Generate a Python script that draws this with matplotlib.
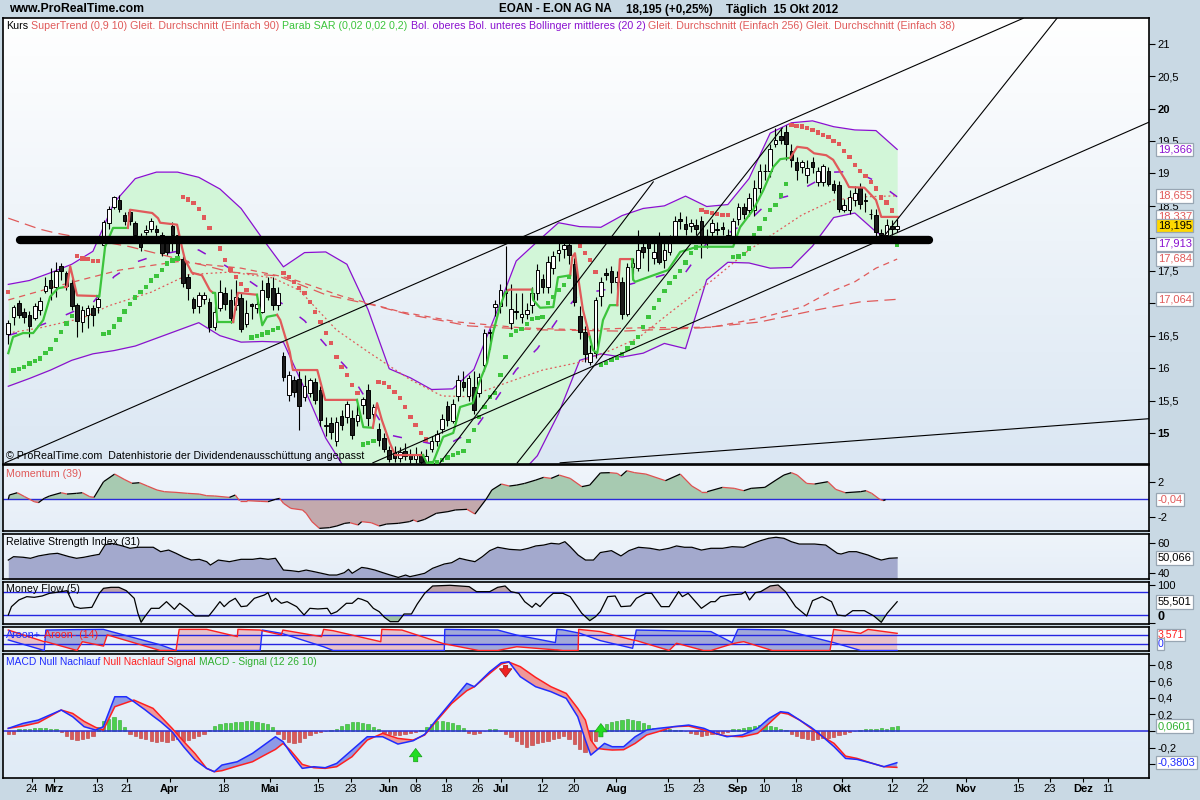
import numpy as np
import matplotlib
matplotlib.use("Agg")
import matplotlib.pyplot as plt
from matplotlib.collections import LineCollection
from matplotlib.colors import LinearSegmentedColormap

plt.rcParams['font.family'] = ['Liberation Sans', 'DejaVu Sans']

# ---------------- Kurs EOAN, Handelstage 0..168 (17.02.2012 - 15.10.2012) ----------------
opens = [16.53,16.79,17.01,16.87,16.82,16.77,16.90,17.19,17.36,17.25,
17.57,17.46,17.31,16.97,16.71,16.82,16.92,16.94,17.90,18.23,
18.49,18.59,18.36,18.40,18.23,18.03,18.09,18.15,18.15,18.05,
17.92,18.19,18.05,17.68,17.41,17.06,16.95,17.06,17.02,16.64,
16.92,17.15,17.05,16.97,17.08,16.68,16.98,16.92,16.87,17.31,
17.24,16.97,16.18,15.59,15.82,15.83,15.55,15.61,15.78,15.66,
15.10,15.15,14.87,15.26,15.25,15.23,15.19,15.43,15.66,15.30,
15.06,14.92,14.74,14.70,14.62,14.72,14.66,14.60,14.68,14.56,
14.76,14.87,15.06,15.41,15.19,15.57,15.79,15.57,15.71,15.62,
16.05,16.54,16.94,16.95,17.18,16.69,16.88,16.78,16.84,16.97,
17.15,17.38,17.25,17.55,17.77,17.83,17.90,17.61,16.80,16.56,
16.10,16.23,17.11,17.46,17.49,17.33,17.33,16.84,17.56,17.54,
17.87,17.92,17.69,17.92,17.67,17.79,18.03,18.29,18.22,18.19,
18.20,18.26,18.04,18.09,18.15,18.17,18.05,18.03,18.29,18.49,
18.44,18.44,18.77,19.03,19.03,19.46,19.58,19.64,19.35,19.18,
19.10,18.98,19.18,18.87,18.87,19.04,18.84,18.82,18.44,18.44,
18.59,18.77,18.59,18.38,18.36,18.08,18.05,18.19,18.15]
highs = [16.74,16.97,17.05,16.92,16.88,17.00,17.10,17.41,17.55,17.63,
17.62,17.50,17.38,17.00,16.96,16.97,16.97,17.09,18.28,18.50,
18.65,18.66,18.40,18.45,18.27,18.08,18.20,18.32,18.20,18.10,
18.00,18.25,18.10,17.72,17.45,17.10,17.17,17.18,17.08,16.95,
17.35,17.25,17.22,17.35,17.15,17.05,17.00,17.10,17.35,17.40,
17.40,17.25,16.25,15.95,15.88,15.95,15.90,15.85,15.85,15.72,
15.25,15.25,15.25,15.35,15.50,15.35,15.45,15.55,15.75,15.45,
15.15,15.00,14.80,14.80,14.78,14.85,14.75,14.78,14.72,14.75,
14.95,15.05,15.30,15.50,15.52,15.90,15.95,15.90,15.95,15.92,
16.60,16.60,17.05,17.30,17.88,17.30,17.15,17.15,17.00,17.25,
17.60,17.45,17.72,17.80,17.95,18.00,17.95,17.70,16.95,16.65,
16.35,17.10,17.40,17.55,17.58,17.50,17.40,17.62,17.70,18.13,
18.00,18.00,17.95,18.10,17.95,18.05,18.35,18.40,18.35,18.30,
18.30,18.35,18.15,18.30,18.25,18.25,18.15,18.32,18.55,18.55,
18.70,18.90,19.15,19.15,19.45,19.70,19.70,19.75,19.45,19.25,
19.20,19.20,19.25,19.10,19.15,19.10,18.90,18.88,18.60,18.75,
18.80,18.85,18.70,18.45,18.45,18.15,18.30,18.28,18.30]
lows = [16.37,16.66,16.77,16.69,16.48,16.74,16.82,17.15,17.05,17.10,
17.35,17.20,16.90,16.48,16.56,16.62,16.65,16.85,17.86,18.15,
18.45,18.40,18.20,18.20,18.00,17.80,18.05,18.10,18.00,17.72,
17.74,17.80,17.72,17.25,17.05,16.85,16.85,16.98,16.55,16.58,
16.88,16.90,16.70,16.90,16.55,16.63,16.75,16.85,16.85,17.05,
16.90,16.90,15.80,15.50,15.55,15.05,15.50,15.55,15.45,15.10,
14.95,14.90,14.80,15.05,15.15,14.90,15.10,15.30,15.10,15.20,
14.80,14.70,14.55,14.55,14.55,14.58,14.53,14.53,14.52,14.52,
14.70,14.80,15.00,15.10,15.15,15.50,15.65,15.50,15.30,15.55,
15.95,16.30,16.80,16.85,16.95,16.60,16.75,16.70,16.75,16.85,
17.05,17.15,17.15,17.45,17.65,17.70,17.60,16.95,16.45,16.10,
16.05,16.15,16.95,17.35,17.15,17.20,16.75,16.80,17.45,17.50,
17.70,17.50,17.60,17.60,17.55,17.75,17.95,18.15,18.05,18.10,
18.05,17.70,17.85,18.00,18.05,18.05,17.95,17.95,18.20,18.30,
18.35,18.35,18.70,18.90,18.95,19.40,19.45,19.20,19.10,18.90,
19.00,18.85,19.00,18.80,18.80,18.80,18.70,18.40,18.40,18.38,
18.50,18.45,18.40,18.30,18.00,17.97,18.00,18.05,18.10]
closes = [16.70,16.94,16.82,16.78,16.65,16.95,17.04,17.27,17.23,17.50,
17.49,17.27,16.95,16.73,16.90,16.92,16.82,17.06,18.25,18.45,
18.63,18.45,18.26,18.26,18.05,17.87,18.13,18.27,18.10,17.78,
17.79,18.05,17.77,17.31,17.24,16.92,17.13,17.13,16.64,16.87,
17.18,16.99,16.77,17.09,16.61,16.85,16.95,16.99,17.21,17.10,
16.97,17.16,15.87,15.89,15.63,15.41,15.72,15.82,15.51,15.20,
15.12,15.02,15.17,15.13,15.44,14.97,15.28,15.52,15.23,15.40,
14.89,14.76,14.60,14.62,14.70,14.65,14.60,14.68,14.56,14.64,
14.87,14.99,15.21,15.20,15.44,15.82,15.71,15.84,15.35,15.86,
16.54,16.56,16.99,17.21,17.16,16.91,16.86,16.83,16.90,17.15,
17.51,17.25,17.64,17.72,17.82,17.90,17.74,17.02,16.55,16.21,
16.23,17.05,17.32,17.44,17.33,17.40,16.84,17.56,17.62,17.82,
17.79,17.85,17.79,17.64,17.82,17.92,18.26,18.26,18.14,18.23,
18.15,17.92,18.03,18.24,18.13,18.15,18.03,18.27,18.49,18.38,
18.62,18.77,19.04,19.04,19.37,19.52,19.52,19.45,19.20,19.05,
19.17,19.08,19.10,19.04,19.11,18.84,18.74,18.45,18.52,18.64,
18.70,18.53,18.57,18.37,18.10,18.05,18.21,18.14,18.195]

# Parabolic SAR, ein Wert pro Tag
sar = [17.17,
15.96,15.99,16.02,16.07,16.11,16.15,16.23,16.29,16.43,16.56,16.69,
16.80,
17.73,17.69,17.68,17.65,17.65,
16.53,16.55,16.64,16.75,16.87,16.99,17.09,17.17,17.25,17.35,17.42,17.51,17.61,17.66,17.69,
18.64,18.60,18.54,18.45,18.32,18.16,18.00,17.84,17.67,17.52,17.40,17.30,17.20,
16.47,16.49,16.52,16.55,16.59,16.62,
17.47,17.40,17.33,17.23,17.16,17.02,16.86,16.71,16.54,16.39,16.17,16.02,15.89,15.74,15.62,
14.82,14.85,14.88,
15.79,15.77,15.71,15.63,15.54,15.40,15.25,15.12,15.00,14.90,
14.53,14.55,14.58,14.62,14.66,14.69,14.72,14.88,15.05,15.25,15.40,15.55,15.62,15.89,
16.17,16.51,16.57,16.60,16.68,16.76,16.77,16.79,17.00,17.10,17.20,17.28,17.40,
17.95,17.88,17.77,17.67,17.48,
16.05,16.08,16.12,16.16,16.22,16.30,16.39,16.48,16.63,16.79,16.93,17.05,17.19,17.31,17.40,17.50,17.63,17.77,17.86,
18.44,18.41,18.39,18.37,18.36,18.36,
17.71,17.72,17.76,17.84,18.05,18.15,18.30,18.44,18.51,18.66,18.84,
19.75,19.73,19.72,19.70,19.67,19.63,19.59,19.56,19.50,19.45,19.35,19.25,19.13,19.04,18.96,18.87,18.77,18.63,18.55,18.43,
17.90]

bb_idx = list(range(0, 169, 4))
bb_upper = [17.29,17.35,17.47,17.60,17.80,18.55,18.92,19.02,19.02,18.94,18.76,18.46,18.00,17.56,17.78,17.79,
17.60,16.90,15.99,15.85,15.67,15.68,15.98,16.80,17.65,17.95,18.24,18.18,18.17,18.35,18.46,18.50,
18.65,18.49,18.52,18.92,19.62,19.78,19.81,19.72,19.67,19.66,19.37]
bb_lower = [15.72,15.84,15.97,16.12,16.22,16.27,16.34,16.46,16.58,16.70,16.50,16.40,16.41,16.40,15.68,14.92,
14.40,14.05,13.95,13.95,14.00,14.05,14.10,14.20,14.30,14.65,15.30,16.12,16.22,16.17,16.23,16.38,
16.30,17.36,17.63,17.62,17.54,17.55,17.88,18.32,18.39,18.10,17.91]

# gleitende Durchschnitte (Tag, Kurs)
sma256 = [(0,18.31),(6,18.14),(9,18.08),(23,17.87),(42,17.48),(51,17.42),(60,17.13),(69,16.97),(76,16.82),
          (82,16.73),(87,16.65),(100,16.59),(116,16.57),(131,16.62),(142,16.71),(153,16.90),(161,17.02),(168,17.06)]
sma90 = [(0,17.05),(10,17.28),(21,17.51),(32,17.64),(44,17.54),(53,17.39),(63,17.11),(74,16.87),(85,16.71),
         (97,16.62),(108,16.59),(119,16.62),(133,16.63),(142,16.77),(150,16.94),(155,17.16),(160,17.33),(164,17.54),(168,17.68)]
sma38 = [(0,16.54),(6,16.62),(14,16.77),(19,16.96),(27,17.17),(34,17.44),(42,17.48),(50,17.39),(55,17.20),(62,16.59),
         (68,16.25),(76,15.82),(82,15.57),(87,15.56),(93,15.74),(101,15.97),(108,16.09),(114,16.28),(119,16.46),
         (125,16.85),(133,17.35),(140,17.82),(150,18.36),(156,18.59),(162,18.64),(168,18.655)]

# SuperTrend (0,9 10): Abschnitte gruen (unter Kurs) / rot (ueber Kurs)
supertrend = [
    ('g', [(0,16.23),(0.9,16.48),(2.8,16.54),(4.7,16.54),(6.6,16.74),(7.9,17.10),(9.4,17.23),(10.7,17.25)]),
    ('r', [(11.1,17.25),(11.7,17.57),(13.0,17.12),(16.8,17.11)]),
    ('g', [(17.2,17.10),(18.3,17.87),(19.8,18.16),(22.6,18.16)]),
    ('r', [(23.0,18.44),(27.2,18.39),(28.3,18.31),(28.7,18.24),(31.9,18.21),(32.8,17.87),(33.4,17.67),
           (34.7,17.47),(36.6,17.43),(38.1,17.20),(38.7,17.16)]),
    ('g', [(39.1,17.16),(39.5,16.71),(42.5,16.71)]),
    ('r', [(43.4,17.16),(47.0,17.13)]),
    ('g', [(48.0,16.66),(48.9,16.79),(50.8,16.82)]),
    ('r', [(51.4,16.74),(53.2,16.25),(53.8,15.97),(58.4,15.97),(59.9,15.51),(65.9,15.51)]),
    ('g', [(67.1,15.09),(68.9,15.08)]),
    ('r', [(69.7,15.46),(70.6,15.20),(72.1,14.85),(73.1,14.66),(78.4,14.66)]),
    ('g', [(79.1,14.54),(80.3,14.55),(82.2,14.94),(84.1,15.00),(85.4,15.40),(87.8,15.46),(89.2,15.82),
           (90.5,16.08),(91.6,16.54),(92.9,16.94),(93.9,17.16),(94.5,17.20)]),
    ('r', [(94.8,17.21),(99.0,17.21)]),
    ('g', [(99.2,17.05),(100.5,16.93),(103.0,16.94),(103.9,17.40),(106.2,17.43)]),
    ('r', [(106.6,17.71),(107.1,17.77),(107.7,17.40),(108.6,16.90),(109.9,16.48)]),
    ('g', [(110.5,16.28),(111.3,16.23),(112.4,16.74),(113.7,16.97),(115.1,16.97)]),
    ('r', [(115.6,17.68),(117.9,17.68)]),
    ('g', [(118.1,17.36),(118.5,17.33),(122.6,17.45),(124.7,17.51),(127.0,17.79),(130.2,17.87),(137.0,17.87),
           (138.3,18.17),(140.8,18.44),(142.7,18.74),(144.6,19.10),(145.9,19.22),(147.8,19.24)]),
    ('r', [(149.1,19.41),(151.0,19.39),(152.3,19.31),(154.6,19.28),(155.9,19.21),(158.2,18.90),(158.9,18.79),
           (161.8,18.78),(164.0,18.59),(165.0,18.33),(168.1,18.33)]),
]

# Trendlinien (Tag, Kurs) -> (Tag, Kurs)
trend_lines = [((-0.6,14.54),(191.8,21.39)), ((68.9,14.54),(215.6,19.79)), ((104.3,14.54),(215.6,15.22)),
               ((81.6,14.54),(121.9,18.87)), ((96.2,14.54),(146.3,19.70)), ((165.0,17.98),(198.2,21.39))]
support = ((2.2, 17.97), (174.0, 17.97))

# Momentum (39)
momentum = [(0,0.0),(0.2,0.49),(1.7,0.75),(3.1,0.30),(4.9,-0.27),(5.7,-0.38),(6.8,0.11),(7.8,0.38),(10.0,0.75),
(11.1,0.60),(12.9,0.68),(14.0,0.75),(15.4,0.30),(16.2,0.22),(18.0,2.0),(20.1,2.87),(21.9,2.27),(23.4,1.82),
(24.8,1.89),(26.3,1.51),(28.1,1.06),(29.5,0.87),(31.7,0.79),(33.9,0.68),(36.1,0.60),(37.5,0.41),(39.0,0.38),
(41.8,0.22),(42.9,0.49),(43.7,-0.15),(45.1,-0.15),(47.6,-0.23),(49.1,-0.27),(50.5,0.0),(51.3,0.11),(52.0,-0.45),
(53.4,-1.03),(55.6,-1.21),(56.3,-1.59),(57.4,-2.54),(58.8,-3.30),(60.7,-3.22),(62.1,-3.03),(63.6,-2.73),
(64.6,-2.66),(66.1,-2.92),(66.8,-2.54),(68.6,-2.66),(70.1,-3.03),(71.5,-2.81),(73.7,-2.73),(75.8,-2.54),
(76.6,-2.35),(77.3,-2.54),(78.7,-2.28),(80.9,-1.59),(83.1,-1.40),(84.5,-1.21),(86.7,-1.14),(88.2,-1.67),
(90.3,0.0),(91.4,1.06),(93.2,1.74),(94.7,1.51),(96.1,1.62),(97.6,1.81),(99.7,2.19),(101.2,2.50),(102.6,2.38),
(104.1,2.76),(106.2,2.38),(108.4,1.44),(109.9,1.62),(111.9,3.0),(113.7,3.03),(115.1,2.95),(115.8,2.65),
(116.9,3.25),(118.4,3.03),(120.5,2.87),(124.2,2.12),(127.0,2.87),(129.2,1.51),(131.0,0.87),(132.1,0.87),
(135.0,1.36),(137.2,1.25),(139.0,0.98),(140.4,1.25),(143.0,1.36),(145.1,2.19),(146.6,2.76),(148.0,3.03),
(149.1,2.76),(150.9,1.81),(152.4,1.74),(154.9,2.0),(156.4,1.13),(158.2,0.75),(161.1,0.87),(162.1,0.98),
(163.2,0.68),(164.7,0.0),(165.4,-0.15),(165.8,-0.04)]

# Relative Strength Index (31)
rsi = [(0,48.6),(1.0,50.9),(2.8,50.5),(4.2,49.8),(5.7,51.4),(7.8,52.7),(9.3,53.2),(11.5,50.9),(12.9,49.8),
(14.3,50.5),(15.8,51.6),(17.2,52.5),(18.3,58.9),(19.4,60.0),(20.1,59.5),(21.6,58.2),(23.0,56.6),(24.5,57.3),
(27.4,57.3),(28.8,54.3),(30.3,55.4),(31.7,53.2),(33.2,50.5),(34.6,48.6),(36.1,49.1),(37.5,47.5),(38.2,45.2),
(39.7,48.6),(41.8,47.5),(44.0,49.1),(46.2,49.1),(47.6,49.8),(49.1,49.1),(50.5,49.8),(52.0,41.8),(53.4,41.4),
(54.9,40.7),(56.3,41.8),(57.8,40.7),(59.2,39.6),(60.7,38.4),(62.1,38.4),(63.5,40.0),(64.3,42.3),(65.0,39.6),
(66.8,43.6),(67.9,43.0),(69.3,41.8),(70.8,40.0),(72.2,38.4),(73.7,36.8),(75.1,38.4),(75.9,37.3),(77.3,38.4),
(78.7,39.6),(80.2,43.0),(82.4,45.9),(83.8,46.8),(85.3,49.8),(86.7,48.6),(88.2,47.5),(89.6,50.9),(91.0,55.0),
(92.5,57.3),(94.7,55.9),(96.8,55.4),(98.3,56.6),(99.7,58.2),(101.2,58.8),(102.6,60.0),(104.1,59.5),(105.2,61.1),
(106.2,57.7),(107.7,52.0),(109.1,48.6),(110.6,48.6),(111.9,53.7),(114.0,55.0),(115.8,51.4),(117.3,55.0),
(119.1,57.3),(121.3,56.6),(123.1,55.4),(124.9,56.6),(126.3,58.2),(127.8,57.3),(129.2,57.3),(131.0,55.4),
(132.8,56.6),(135.0,56.6),(136.8,57.7),(139.0,57.3),(140.8,60.0),(142.2,61.8),(143.7,63.4),(145.1,64.1),
(146.6,63.4),(148.0,61.1),(149.5,59.5),(152.4,59.5),(154.5,58.8),(156.7,53.2),(157.4,52.7),(158.9,54.3),
(160.3,54.3),(162.5,52.0),(164.0,49.8),(165.0,48.6),(166.5,49.8),(168.0,50.07)]

# Money Flow (5)
money_flow = [(0,20.9),(0.6,42.7),(2.0,60.1),(3.5,68.8),(4.9,67.0),(6.4,70.5),(7.8,77.5),(10.0,81.8),(11.1,84.4),
(12.5,42.7),(13.6,38.3),(15.8,40.9),(17.2,77.5),(18.0,90.5),(19.4,93.1),(20.9,93.1),(22.3,84.4),(23.8,64.4),
(24.5,25.2),(25.1,1.8),(25.9,18.3),(27.0,38.3),(28.5,38.3),(29.9,55.7),(31.4,35.7),(32.4,51.4),(33.9,35.7),
(35.3,18.3),(37.9,18.3),(38.9,35.7),(40.0,55.7),(40.8,42.7),(41.8,55.7),(42.9,64.4),(44.0,42.7),(45.1,44.4),
(46.5,64.4),(48.4,73.1),(49.1,79.2),(49.8,55.7),(50.5,64.4),(51.6,51.4),(52.7,55.7),(54.5,42.7),(55.9,20.9),
(57.0,38.3),(58.5,36.6),(60.3,38.3),(61.0,23.5),(62.1,29.6),(63.9,51.4),(65.0,51.4),(66.1,64.4),(66.8,61.8),
(67.9,55.7),(69.0,38.3),(70.1,29.6),(71.1,14.8),(72.2,3.5),(73.7,3.5),(74.8,23.5),(76.2,23.5),(77.3,49.6),
(78.7,77.5),(80.2,96.6),(83.5,98.4),(87.1,94.9),(88.5,81.8),(91.0,81.8),(92.5,93.1),(93.9,96.6),(95.0,81.8),
(96.5,77.5),(97.6,55.7),(99.0,40.9),(99.7,51.4),(100.5,42.7),(101.9,64.4),(103.0,77.5),(104.8,77.5),
(106.2,68.8),(108.4,25.2),(109.9,6.1),(111.0,16.5),(111.9,30.0),(113.3,68.8),(114.7,70.5),(115.8,42.7),
(117.6,44.4),(118.7,64.4),(120.5,77.5),(121.6,77.5),(123.4,42.7),(124.9,42.7),(126.7,81.8),(127.4,68.8),
(128.5,77.5),(129.6,60.1),(131.0,38.3),(132.8,55.7),(133.6,55.7),(134.6,68.8),(136.4,73.1),(138.6,75.7),
(139.3,81.8),(140.1,60.1),(141.2,79.2),(142.2,81.8),(144.0,96.6),(145.5,99.2),(146.9,81.8),(148.8,42.7),
(150.9,18.3),(152.0,58.3),(153.8,68.8),(155.6,55.7),(156.7,20.9),(158.2,18.3),(159.6,32.2),(161.8,32.2),
(163.6,18.3),(165.0,1.8),(166.1,25.2),(168.0,55.5)]

# Aroon+ / Aroon- (14): (Tag, Aroon+, Aroon-)
aroon = [(0,48,93),(6.8,0,40),(7.1,93,40),(13.0,95,0),(14.0,95,40),(18.0,96,20),(18.7,91,71),(28.7,26,0),
(31.7,0,0),(32.3,0,96),(37.5,0,96),(43.3,0,63),(43.4,0,96),(47.6,0,93),(48.0,93,90),(51.6,78,71),(51.9,76,93),
(59.2,20,63),(59.6,17,96),(61.4,0,90),(70.4,0,40),(70.6,0,96),(74.4,0,93),(82.4,0,30),(82.5,96,30),(88.9,94,0),
(92.5,93,0),(96.1,70,17),(103.4,36,3),(103.7,96,3),(104.8,94,0),(107.7,80,0),(107.8,80,96),(111.9,45,86),
(118.0,10,48),(118.7,93,45),(124.9,90,0),(126.3,89,33),(131.4,87,0),(132.8,86,0),(136.8,36,30),(137.9,96,36),
(139.0,96,40),(144.4,94,0),(146.6,93,0),(155.3,40,0),(156.0,36,96),(161.1,0,78),(162.5,0,96),(168.0,0,78)]

# MACD Null Nachlauf / Signal (12 26 10): (Tag, MACD, Signal)
macd = [(0,0.032,0.032),(2.77,0.092,0.060),(5.66,0.132,0.100),(10.0,0.253,0.253),(12.17,0.172,0.212),
(14.34,0.052,0.116),(16.51,0.012,0.044),(17.96,0.052,0.012),(20.13,0.413,0.293),(22.3,0.413,0.341),
(23.74,0.353,0.373),(25.91,0.253,0.313),(27.36,0.180,0.273),(28.8,0.112,0.176),(30.97,-0.008,0.032),
(33.14,-0.189,-0.125),(35.31,-0.350,-0.273),(37.48,-0.450,-0.450),(38.93,-0.490,-0.490),(40.37,-0.410,-0.478),
(41.82,-0.390,-0.450),(43.27,-0.370,-0.422),(46.16,-0.269,-0.370),(48.33,-0.169,-0.294),(50.5,-0.069,-0.221),
(51.94,-0.129,-0.149),(53.39,-0.269,-0.237),(55.56,-0.450,-0.402),(57.73,-0.430,-0.442),(59.9,-0.442,-0.450),
(62.07,-0.390,-0.430),(64.96,-0.229,-0.310),(67.85,-0.069,-0.109),(70.75,-0.069,-0.028),(73.64,-0.157,-0.089),
(76.53,-0.117,-0.109),(78.7,-0.040,-0.048),(80.87,0.132,0.116),(83.76,0.353,0.329),(86.66,0.574,0.486),
(88.1,0.534,0.534),(91.0,0.714,0.694),(93.17,0.823,0.807),(94.61,0.835,0.831),(96.78,0.654,0.775),
(99.67,0.534,0.646),(102.56,0.474,0.534),(105.46,0.393,0.453),(107.63,0.172,0.273),(109.07,-0.109,0.132),
(110.09,-0.290,-0.109),(111.25,-0.229,-0.209),(112.69,-0.149,-0.221),(114.14,-0.189,-0.229),(116.3,-0.189,-0.225),
(118.48,-0.069,-0.149),(120.65,0.012,-0.048),(122.82,0.032,-0.008),(125.71,0.052,0.052),(128.6,0.072,0.060),
(131.5,0.032,0.012),(133.66,-0.028,-0.032),(135.83,-0.069,-0.061),(138.72,-0.048,-0.069),(141.62,0.032,-0.028),
(143.79,0.152,0.092),(145.96,0.233,0.221),(147.41,0.221,0.204),(149.57,0.132,0.132),(151.74,0.044,0.032),
(153.19,-0.028,-0.040),(156.08,-0.189,-0.149),(158.25,-0.330,-0.302),(160.42,-0.342,-0.330),
(163.32,-0.390,-0.390),(165.48,-0.430,-0.430),(167.94,-0.382,-0.438)]
macd_hist = [-0.04,-0.03,0.02,0.03,0.03,0.04,0.04,0.04,0.03,0.02,
-0.01,-0.06,-0.10,-0.11,-0.10,-0.09,-0.06,0.05,0.12,0.15,
0.17,0.13,0.05,-0.03,-0.06,-0.09,-0.10,-0.12,-0.13,-0.12,
-0.13,-0.11,-0.10,-0.12,-0.11,-0.08,-0.06,-0.03,0.01,0.06,
0.09,0.10,0.10,0.11,0.11,0.12,0.12,0.11,0.10,0.08,
0.05,-0.03,-0.10,-0.13,-0.15,-0.13,-0.09,-0.05,-0.02,-0.01,
0.0,0.01,0.02,0.06,0.09,0.11,0.11,0.10,0.08,0.05,
0.02,-0.02,-0.04,-0.05,-0.05,-0.04,-0.02,-0.01,0.01,0.05,
0.09,0.12,0.12,0.11,0.10,0.07,0.04,-0.02,-0.03,-0.02,
0.0,0.02,0.02,0.0,-0.03,-0.07,-0.12,-0.16,-0.19,-0.17,
-0.15,-0.13,-0.12,-0.10,-0.08,-0.06,-0.10,-0.16,-0.22,-0.25,
-0.20,-0.12,0.02,0.08,0.11,0.12,0.13,0.14,0.13,0.12,
0.10,0.07,0.04,0.03,0.02,0.02,0.01,0.01,0.0,-0.02,
-0.04,-0.06,-0.05,-0.04,-0.03,-0.02,-0.01,0.02,0.03,0.04,
0.05,0.06,0.07,0.07,0.06,0.05,0.03,0.01,-0.03,-0.06,
-0.09,-0.10,-0.11,-0.10,-0.09,-0.08,-0.07,-0.05,-0.03,-0.01,
0.0,0.01,0.02,0.02,0.03,0.04,0.03,0.05,0.06]
# Signalpfeile (Tag, Richtung)
macd_arrows = [(77, 'up'), (94, 'down'), (112, 'up')]

# Zeitachse
tick_days = [4.5,8.6,16.8,22.4,30.5,40.7,49.4,58.6,64.7,71.9,77.0,82.8,88.8,93.2,100.9,106.9,114.9,
             124.7,130.5,137.8,142.8,148.9,157.6,167.0,172.8,181.0,190.9,196.9,203.1,207.8]
tick_labels = ['24','Mrz','13','21','Apr','18','Mai','15','23','Jun','08','18','26','Jul','12','20','Aug',
               '15','23','Sep','10','18','Okt','12','22','Nov','15','23','Dez','11']
months = ['Mrz','Apr','Mai','Jun','Jul','Aug','Sep','Okt','Nov','Dez']

# ---------------- Zeichnen ----------------
RED = '#e05a5a'; GREEN = '#3cc43c'; PURPLE = '#8a10d0'; BLUE = '#1f2cff'; LRED = '#ff2020'
W, H = 1200, 800
fig = plt.figure(figsize=(12, 8), dpi=100)
fig.patch.set_facecolor('#c9d9e4')


def panel(top, bottom):
    return fig.add_axes([3 / W, 1 - bottom / H, (1149 - 3) / W, (bottom - top) / H])


def gradient(a, top, bottom):
    cm = LinearSegmentedColormap.from_list('bg', [bottom, top])
    a.imshow(np.linspace(0, 1, 256).reshape(-1, 1), cmap=cm, origin='lower', extent=[0, 1, 0, 1],
             transform=a.transAxes, aspect='auto', zorder=0, interpolation='bilinear')


def style(a, ylim, ticks, labels, bold=()):
    a.set_xlim(-1.0, 215.6)
    a.set_ylim(*ylim)
    for s in a.spines.values():
        s.set_linewidth(1.2)
        s.set_color('black')
    a.yaxis.tick_right()
    a.set_yticks(ticks)
    a.set_yticklabels(labels)
    for t, lab in zip(a.get_yticklabels(), labels):
        if lab in bold:
            t.set_fontweight('bold')
    a.tick_params(axis='y', length=4, width=0.8, labelsize=8, pad=2, direction='out')
    a.set_xticks([])


def vbox(a, y, txt, col, fc='white', z=10):
    a.text(1.0075, y, txt, transform=a.get_yaxis_transform(), color=col, fontsize=8, va='center', ha='left',
           bbox=dict(boxstyle='square,pad=0.16', fc=fc, ec='#98a6b3', lw=0.9), zorder=z, clip_on=False)


def chain(y_px, parts, x_px=6, size=7.7, gap=3.0, weight='normal'):
    r = fig.canvas.get_renderer()
    x = x_px
    for s, col in parts:
        t = fig.text(x / W, 1 - y_px / H, s, color=col, fontsize=size, ha='left', va='center', fontweight=weight)
        x += t.get_window_extent(renderer=r).width + gap


ax = panel(18, 464)
axm = panel(465, 531)
axr = panel(534, 579)
axf = panel(582, 624)
axa = panel(627, 651)
axd = panel(654, 778)

# --- Kurs ---
gradient(ax, '#ffffff', '#dbe7f3')
o = np.array(opens); h = np.array(highs); l = np.array(lows); c = np.array(closes)
x = np.arange(len(c))

bx = np.array(bb_idx); bu = np.array(bb_upper); bl = np.array(bb_lower)
ax.fill_between(bx, bl, bu, color='#d2f6d8', lw=0, zorder=1)
ax.plot(bx, bu, color=PURPLE, lw=0.9, zorder=2)
ax.plot(bx, bl, color=PURPLE, lw=0.9, zorder=2)
ax.plot(bx, (bu + bl) / 2, color=PURPLE, lw=1.1, dashes=(6, 14), zorder=2)

for pts, dash in ((sma256, (9, 5)), (sma90, (5, 4)), (sma38, (1.5, 2.2))):
    ax.plot([p[0] for p in pts], [p[1] for p in pts], color=RED, lw=0.9, dashes=dash, zorder=3)

ax.vlines(x, l, h, color='black', lw=0.8, zorder=5)
body = np.maximum(np.abs(c - o), 0.012)
ax.bar(x, body, bottom=np.minimum(o, c), width=0.68, color=np.where(c >= o, 'white', '#1c1c1c'),
       edgecolor='black', lw=0.7, zorder=6)

prev = None
for col, pts in supertrend:
    xs = [p[0] for p in pts]; ys = [p[1] for p in pts]
    if prev is not None:
        xs = [prev[0]] + xs; ys = [prev[1]] + ys
    ax.plot(xs, ys, color=GREEN if col == 'g' else RED, lw=1.6, zorder=7, solid_joinstyle='round')
    prev = pts[-1]

s = np.array(sar)
ax.scatter(x, s, marker='s', s=10, c=np.where(s > c, RED, GREEN), linewidths=0, zorder=7)

for (x0, y0), (x1, y1) in trend_lines:
    ax.plot([x0, x1], [y0, y1], color='black', lw=0.8, zorder=8)
ax.plot([support[0][0], support[1][0]], [support[0][1], support[1][1]], color='black', lw=6,
        solid_capstyle='round', zorder=9)

vals = [15 + 0.5 * k for k in range(13)]
labs = [('%g' % v).replace('.', ',') for v in vals]
labs = ['' if lab in ('17', '18') else lab for lab in labs]   # hinter den Wertekaesten verborgen
style(ax, (14.522, 21.395), vals, labs, bold=('15', '20'))
vbox(ax, 19.366, '19,366', PURPLE)
vbox(ax, 18.655, '18,655', RED)
vbox(ax, 18.337, '18,337', RED)
vbox(ax, 17.913, '17,913', PURPLE)
vbox(ax, 17.684, '17,684', RED, z=9)
vbox(ax, 17.064, '17,064', RED)
vbox(ax, 18.195, '18,195', 'black', fc='#ffd800', z=11)

# --- Momentum ---
gradient(axm, '#f0f5fb', '#e6eef8')
mx = np.array([p[0] for p in momentum]); mv = np.array([p[1] for p in momentum])
axm.fill_between(mx, 0, mv, where=mv >= 0, interpolate=True, color='#a7cab1', lw=0, zorder=1)
axm.fill_between(mx, 0, mv, where=mv <= 0, interpolate=True, color='#c3a9ad', lw=0, zorder=1)
axm.axhline(0, color='#2a2ad8', lw=1, zorder=2)
segs = np.stack([np.column_stack([mx[:-1], mv[:-1]]), np.column_stack([mx[1:], mv[1:]])], axis=1)
axm.add_collection(LineCollection(segs, colors=np.where(np.diff(mv) > 0, 'black', '#e05050'), lw=0.9, zorder=3))
style(axm, (-3.60, 3.90), [2, -2], ['2', '-2'])
vbox(axm, -0.04, '-0,04', RED)

# --- RSI ---
gradient(axr, '#eef4fa', '#e6eef8')
rx = [p[0] for p in rsi]; rv = [p[1] for p in rsi]
axr.fill_between(rx, 30, rv, color='#a3a9cd', lw=0, zorder=1)
axr.plot(rx, rv, color='black', lw=0.9, zorder=3)
style(axr, (35.71, 66.33), [60, 40], ['60', '40'])
vbox(axr, 50.066, '50,066', 'black')

# --- Money Flow ---
gradient(axf, '#eef4fa', '#e6eef8')
fx = np.array([p[0] for p in money_flow]); fv = np.array([p[1] for p in money_flow])
axf.fill_between(fx, 80, fv, where=fv >= 80, interpolate=True, color='#bca4a8', lw=0, zorder=1)
axf.fill_between(fx, 20, fv, where=fv <= 20, interpolate=True, color='#9fc3a6', lw=0, zorder=1)
axf.axhline(80, color='#2424e0', lw=1, zorder=2)
axf.axhline(20, color='#2424e0', lw=1, zorder=2)
axf.plot(fx, fv, color='black', lw=0.9, zorder=3)
style(axf, (-2.6, 107.0), [100, 0], ['100', ''])
axf.text(1.0075, 15, '0', transform=axf.get_yaxis_transform(), fontsize=9, fontweight='bold', va='center',
         ha='left', clip_on=False)
vbox(axf, 55.501, '55,501', 'black')

# --- Aroon ---
gradient(axa, '#eef4fa', '#e6eef8')
ax_ = np.array([p[0] for p in aroon]); au = np.array([p[1] for p in aroon]); ad = np.array([p[2] for p in aroon])
axa.fill_between(ax_, ad, au, where=au >= ad, interpolate=True, color='#a2a9d9', lw=0, zorder=1)
axa.fill_between(ax_, ad, au, where=au <= ad, interpolate=True, color='#e9c1c8', lw=0, zorder=1)
axa.axhline(70, color='#2424e0', lw=1, zorder=2)
axa.axhline(30, color='#2424e0', lw=1, zorder=2)
axa.plot(ax_, au, color=BLUE, lw=1.0, zorder=3)
axa.plot(ax_, ad, color=LRED, lw=1.0, zorder=3)
style(axa, (-2.3, 106.8), [], [])
axa.text(1.0075, 72, '3,571', transform=axa.get_yaxis_transform(), color=LRED, fontsize=7.6, va='center',
         ha='left', bbox=dict(boxstyle='square,pad=0.1', fc='white', ec='#98a6b3', lw=0.9), zorder=10, clip_on=False)
axa.text(1.0075, 30, '0', transform=axa.get_yaxis_transform(), color=BLUE, fontsize=7.6, va='center',
         ha='left', bbox=dict(boxstyle='square,pad=0.1', fc='white', ec='#98a6b3', lw=0.9), zorder=11, clip_on=False)

# --- MACD ---
gradient(axd, '#eaf2fa', '#e0ebf6')
hx = np.arange(len(macd_hist)); hv = np.array(macd_hist)
axd.bar(hx, hv, width=0.62, color=np.where(hv >= 0, '#4cd04c', '#d85a5a'),
        edgecolor=np.where(hv >= 0, '#2fa82f', '#b83a3a'), lw=0.4, zorder=2)
axd.axhline(0, color='#2a2ad8', lw=1.1, zorder=2.5)
dx = np.array([p[0] for p in macd]); dm = np.array([p[1] for p in macd]); ds = np.array([p[2] for p in macd])
axd.fill_between(dx, ds, dm, where=dm >= ds, interpolate=True, color='#8e9ae6', lw=0, zorder=3)
axd.fill_between(dx, ds, dm, where=dm <= ds, interpolate=True, color='#ef9898', lw=0, zorder=3)
axd.plot(dx, ds, color=LRED, lw=1.1, zorder=4)
axd.plot(dx, dm, color=BLUE, lw=1.1, zorder=4)
for day, d in macd_arrows:
    if d == 'up':
        base = -0.37 if day < 100 else -0.07
        axd.annotate('', xy=(day, base + 0.16), xytext=(day, base),
                     arrowprops=dict(facecolor='#22dd22', edgecolor='#16a016', width=3, headwidth=9,
                                     headlength=6, lw=0.5), zorder=6)
    else:
        axd.annotate('', xy=(day, 0.65), xytext=(day, 0.79),
                     arrowprops=dict(facecolor='#ee2222', edgecolor='#a01010', width=3, headwidth=9,
                                     headlength=6, lw=0.5), zorder=6)
style(axd, (-0.566, 0.928), [0.8, 0.6, 0.4, 0.2, 0, -0.2, -0.4], ['0,8', '0,6', '0,4', '0,2', '', '-0,2', ''])
axd.text(1.0075, -0.495, '-0,4117', transform=axd.get_yaxis_transform(), color=LRED, fontsize=8, va='center',
         ha='left', bbox=dict(boxstyle='square,pad=0.16', fc='white', ec='#98a6b3', lw=0.9), zorder=9,
         clip_on=True, clip_box=fig.bbox)
vbox(axd, 0.0601, '0,0601', '#30b030')
vbox(axd, -0.3803, '-0,3803', BLUE, z=11)
axd.set_xticks(tick_days)
axd.set_xticklabels(tick_labels)
for t, lab in zip(axd.get_xticklabels(), tick_labels):
    if lab in months:
        t.set_fontweight('bold')
axd.tick_params(axis='x', length=3, width=0.8, labelsize=8, pad=1.5, direction='out')

for a in (ax, axm, axr, axf, axa, axd):
    a.set_xlim(-1.0, 215.6)

# --- Texte ---
fig.text(9 / W, 1 - 9.5 / H, 'www.ProRealTime.com', fontsize=8.8, fontweight='bold', va='center')
chain(9.5, [('EOAN - E.ON AG NA', 'black'), ('18,195 (+0,25%)', 'black'), ('Täglich  15 Okt 2012', 'black')],
      x_px=499, size=8.4, gap=14, weight='bold')

chain(26, [('Kurs', 'black'), ('SuperTrend (0,9 10) Gleit. Durchschnitt (Einfach 90)', RED),
           ('Parab SAR (0,02 0,02 0,2)', GREEN), ('Bol. oberes Bol. unteres Bollinger mittleres (20 2)', PURPLE),
           ('Gleit. Durchschnitt (Einfach 256) Gleit. Durchschnitt (Einfach 38)', RED)])
chain(456, [('© ProRealTime.com  Datenhistorie der Dividendenausschüttung angepasst', 'black')])
chain(474, [('Momentum (39)', RED)])
chain(542, [('Relative Strength Index (31)', 'black')])
chain(589, [('Money Flow (5)', 'black')])
chain(635, [('Aroon+', BLUE), ('Aroon- (14)', LRED)])
chain(662, [('MACD Null Nachlauf', BLUE), ('Null Nachlauf Signal', LRED), ('MACD - Signal (12 26 10)', '#30b030')],
      size=7.4)

fig.savefig('out.png', dpi=100, facecolor=fig.get_facecolor())
